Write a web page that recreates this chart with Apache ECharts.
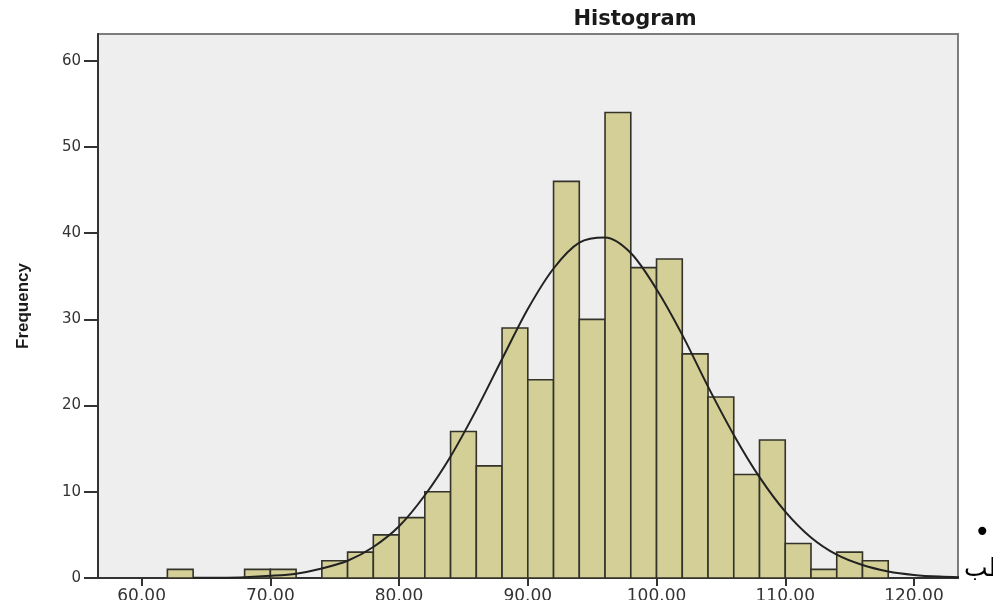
<!DOCTYPE html>
<html>
<head>
<meta charset="utf-8">
<script src="https://cdn.jsdelivr.net/npm/echarts@6/dist/echarts.min.js"></script>
<style>
  html, body { margin: 0; padding: 0; background: #fff; }
  #histogram { width: 993px; height: 600px; }
</style>
</head>
<body>
<div id="histogram"></div>
<script>
  // histogram bins (lower edge), bin width 2
  const binLow = [62, 64, 66, 68, 70, 72, 74, 76, 78, 80, 82, 84, 86, 88,
                  90, 92, 94, 96, 98, 100, 102, 104, 106, 108, 110, 112, 114, 116];
  const counts = [1, 0, 0, 1, 1, 0, 2, 3, 5, 7, 10, 17, 13, 29,
                  23, 46, 30, 54, 36, 37, 26, 21, 12, 16, 4, 1, 3, 2];
  const binWidth = 2;

  // normal curve
  const curveX = [64, 66, 68, 70, 72, 74, 76, 78, 80, 82, 84, 86, 88, 90, 92, 94,
                  96, 98, 100, 102, 104, 106, 108, 110, 112, 114, 116, 118, 120, 122, 124];
  const curveY = [0.02, 0.04, 0.1, 0.25, 0.5, 1.1, 2.0, 3.6, 6.0, 9.6, 14.1, 19.5, 25.4, 31.2, 35.9, 38.9,
                  39.5, 37.7, 33.5, 28.2, 22.2, 16.6, 11.7, 7.7, 4.7, 2.7, 1.5, 0.76, 0.36, 0.16, 0.07];

  const xTicks = [60, 70, 80, 90, 100, 110, 120];
  const yTicks = [0, 10, 20, 30, 40, 50, 60];

  const chart = echarts.init(document.getElementById('histogram'));

  const option = {
    animation: false,
    backgroundColor: '#ffffff',
    title: {
      text: 'Histogram',
      left: 630,
      top: 4,
      textAlign: 'center',
      textStyle: {
        fontFamily: 'DejaVu Sans',
        fontWeight: 'bold',
        fontSize: 21,
        color: '#1a1a1a'
      }
    },
    grid: {
      left: 98,
      top: 34,
      right: 35,
      bottom: 22,
      outerBoundsMode: 'none',
      containLabel: false,
      show: true,
      backgroundColor: '#eeeeee',
      borderColor: '#7d7d7d',
      borderWidth: 2
    },
    xAxis: {
      type: 'value',
      min: 56.61,
      max: 123.42,
      axisLine: { show: true, onZero: false, lineStyle: { color: '#333333', width: 2 } },
      axisTick: { show: true, customValues: xTicks, length: 8, lineStyle: { color: '#333333', width: 2 } },
      axisLabel: {
        customValues: xTicks,
        formatter: v => v.toFixed(2),
        margin: 10,
        fontFamily: 'DejaVu Sans',
        fontSize: 17,
        color: '#333333'
      },
      splitLine: { show: false }
    },
    yAxis: {
      type: 'value',
      min: 0,
      max: 63.1,
      interval: 10,
      name: 'Frequency',
      nameLocation: 'middle',
      nameRotate: 90,
      nameGap: 66,
      nameTextStyle: {
        fontFamily: 'Liberation Sans',
        fontWeight: 'bold',
        fontSize: 17,
        color: '#1a1a1a'
      },
      axisLine: { show: true, lineStyle: { color: '#333333', width: 2 } },
      axisTick: { show: true, customValues: yTicks, length: 14, lineStyle: { color: '#333333', width: 2 } },
      axisLabel: {
        customValues: yTicks,
        margin: 17,
        fontFamily: 'DejaVu Sans',
        fontSize: 15,
        color: '#333333'
      },
      splitLine: { show: false }
    },
    series: [
      {
        type: 'custom',
        name: 'bins',
        data: binLow.map((b, i) => [b, b + binWidth, counts[i]]).filter(d => d[2] > 0),
        encode: { x: [0, 1], y: 2 },
        renderItem: function (params, api) {
          const p0 = api.coord([api.value(0), api.value(2)]);
          const p1 = api.coord([api.value(1), 0]);
          return {
            type: 'rect',
            shape: { x: p0[0], y: p0[1], width: p1[0] - p0[0], height: p1[1] - p0[1] },
            style: { fill: '#d4cf97', stroke: '#33332a', lineWidth: 1.6 }
          };
        },
        z: 2
      },
      {
        type: 'line',
        name: 'normal',
        data: curveX.map((x, i) => [x, curveY[i]]),
        smooth: 0.3,
        showSymbol: false,
        lineStyle: { color: '#222222', width: 2 },
        clip: true,
        z: 3
      }
    ],
    graphic: [
      {
        type: 'text',
        left: 974,
        top: 520,
        style: { text: '•', font: '28px "DejaVu Sans"', fill: '#000000' }
      },
      {
        type: 'text',
        left: 964,
        top: 557,
        style: { text: 'طب', font: '25px "DejaVu Sans"', fill: '#000000' }
      }
    ]
  };

  chart.setOption(option);
</script>
</body>
</html>
